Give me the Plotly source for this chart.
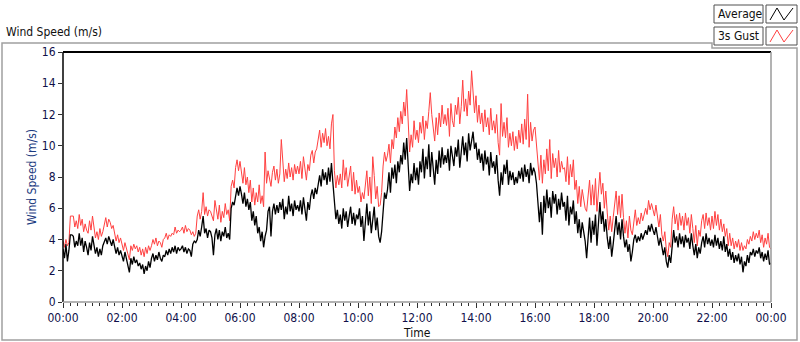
import pandas as pd
import plotly.graph_objects as go

# ---- data (3-minute samples, 00:00 .. 24:00), one row per hour ----
average = [
    3.4, 2.8, 3.7, 2.6, 3.3, 4.3, 4.3, 4.2, 3.5, 3.9, 3.6, 4.4, 3.6, 4.1, 3.2, 3.9, 3.5, 3.0, 3.8, 3.3,
    4.2, 3.6, 3.1, 3.5, 2.9, 3.4, 3.0, 3.6, 3.8, 4.1, 3.7, 4.2, 3.9, 3.6, 4.0, 3.4, 3.1, 3.5, 3.0, 3.3,
    3.0, 2.6, 3.2, 2.7, 2.4, 1.9, 2.8, 2.4, 2.9, 2.5, 2.7, 2.3, 2.5, 2.1, 2.4, 1.8, 2.3, 2.0, 2.6, 2.2,
    2.8, 3.1, 2.6, 3.0, 2.7, 3.2, 2.8, 2.6, 3.0, 2.9, 3.3, 3.0, 3.4, 3.1, 3.5, 3.2, 3.6, 3.1, 3.5, 3.3,
    3.4, 3.6, 3.2, 3.5, 3.1, 3.4, 3.3, 2.9, 3.7, 3.9, 3.8, 4.0, 4.6, 4.2, 4.8, 5.5, 4.4, 4.7, 4.1, 4.6,
    4.5, 4.1, 3.0, 4.3, 4.7, 4.0, 4.6, 3.9, 4.5, 4.2, 4.8, 4.1, 4.4, 4.0, 6.0, 6.4, 6.2, 6.9, 7.3, 6.8,
    7.4, 6.9, 6.3, 7.0, 6.1, 6.6, 5.9, 6.4, 5.2, 5.8, 4.9, 5.5, 4.4, 4.8, 3.9, 4.5, 3.5, 4.2, 4.6, 5.8,
    6.1, 4.2, 5.8, 6.3, 5.6, 6.2, 5.7, 6.4, 5.9, 6.6, 5.3, 6.1, 5.6, 6.8, 5.8, 6.3, 5.5, 6.5, 5.9, 6.2,
    5.8, 6.5, 5.6, 6.7, 6.1, 5.2, 6.4, 5.9, 6.8, 7.2, 6.6, 7.3, 6.9, 7.6, 8.1, 7.4, 8.5, 7.8, 8.3, 7.5,
    8.6, 7.7, 8.9, 7.6, 6.1, 5.3, 5.9, 5.0, 5.6, 4.7, 6.0, 5.2, 5.8, 4.8, 5.5, 6.1, 5.0, 5.7, 4.9, 5.6,
    5.3, 6.0, 4.8, 5.5, 3.9, 5.2, 6.3, 4.9, 5.8, 4.4, 5.5, 6.1, 4.6, 5.4, 4.2, 3.8, 4.5, 5.9, 7.0, 6.6,
    7.2, 8.3, 7.0, 8.6, 7.9, 8.8, 7.6, 9.0, 8.3, 9.4, 8.8, 10.2, 9.1, 10.5, 8.3, 7.1, 8.2, 7.6, 8.9, 7.8,
    8.6, 7.5, 9.0, 8.3, 9.8, 7.9, 9.3, 8.5, 10.1, 8.0, 9.6, 8.4, 7.5, 9.1, 8.2, 9.7, 8.6, 9.9, 8.8, 9.4,
    8.9, 9.8, 8.4, 10.0, 9.2, 8.7, 9.9, 9.3, 10.4, 8.6, 9.6, 10.6, 9.4, 10.2, 9.0, 10.8, 9.7, 10.3, 10.9, 9.8,
    10.2, 9.1, 9.8, 8.9, 9.5, 8.4, 9.7, 8.8, 9.3, 8.1, 9.6, 8.6, 9.0, 8.2, 9.4, 7.8, 6.8, 8.3, 7.5, 8.8,
    8.2, 9.1, 7.5, 8.4, 7.8, 8.3, 7.5, 8.0, 7.6, 8.4, 7.9, 8.6, 7.7, 8.8, 8.0, 8.5, 7.6, 8.9, 8.1, 8.6,
    8.3, 7.6, 6.2, 5.1, 6.4, 4.3, 6.8, 5.7, 7.2, 6.0, 6.7, 5.4, 7.1, 6.3, 6.9, 5.6, 6.6, 5.9, 7.0, 6.1,
    6.4, 5.2, 6.8, 4.9, 6.1, 5.6, 6.5, 5.0, 5.8, 4.4, 5.3, 4.1, 5.1, 4.6, 3.9, 2.8, 4.5, 5.4, 3.8, 5.2,
    4.3, 5.6, 3.6, 5.2, 6.4, 5.0, 5.8, 4.5, 5.3, 4.1, 3.4, 4.2, 2.9, 3.7, 4.6, 5.5, 4.3, 5.1, 4.0, 5.3,
    4.2, 3.5, 4.0, 3.2, 3.7, 2.6, 3.2, 4.0, 4.3, 3.8, 4.2, 3.9, 4.4, 4.0, 4.3, 4.6, 4.3, 4.9, 4.5, 5.0,
    4.6, 4.3, 4.8, 4.0, 3.6, 4.1, 3.4, 3.0, 3.5, 2.6, 2.2, 3.0, 2.5, 3.9, 4.6, 3.8, 4.2, 3.5, 4.4, 3.7,
    4.2, 3.5, 4.3, 3.8, 4.1, 3.4, 4.4, 3.6, 3.0, 3.7, 2.8, 3.5, 3.1, 3.8, 4.2, 3.5, 4.4, 3.7, 4.1, 3.6,
    4.0, 3.5, 4.3, 3.6, 4.1, 3.4, 3.9, 3.3, 4.2, 3.2, 3.7, 2.9, 3.4, 2.7, 3.2, 2.5, 3.0, 2.6, 3.1, 2.4,
    2.9, 1.9, 2.6, 2.3, 3.0, 2.5, 3.2, 3.0, 3.4, 2.9, 3.3, 3.1, 3.5, 2.8, 3.2, 2.6, 3.1, 2.7, 3.3, 2.4,
    2.5,
]
gust = [
    3.9, 3.5, 4.0, 3.6, 3.8, 5.5, 5.5, 5.5, 4.8, 5.2, 4.7, 5.6, 4.9, 5.3, 4.5, 5.0, 4.6, 4.4, 5.2, 4.6,
    5.5, 4.6, 4.1, 4.5, 4.0, 4.7, 4.2, 4.5, 5.0, 5.4, 4.8, 5.3, 5.1, 4.7, 4.9, 4.4, 3.9, 4.3, 3.8, 4.1,
    3.7, 3.3, 3.8, 3.4, 3.1, 2.7, 3.6, 3.3, 3.7, 3.4, 3.6, 3.2, 3.5, 3.0, 3.4, 2.9, 3.5, 3.1, 3.6, 3.3,
    3.6, 4.0, 3.7, 4.1, 3.6, 3.9, 3.8, 3.5, 4.0, 4.1, 4.4, 4.0, 4.3, 4.2, 4.4, 4.3, 4.8, 4.4, 4.6, 4.5,
    4.6, 4.8, 4.4, 4.9, 4.5, 4.7, 4.6, 4.3, 4.5, 4.2, 4.4, 5.5, 5.9, 5.3, 5.8, 7.0, 5.6, 6.1, 5.5, 5.9,
    5.8, 5.5, 5.2, 6.5, 6.0, 5.3, 6.2, 5.1, 5.8, 5.4, 6.3, 5.6, 5.9, 5.2, 7.4, 7.8, 7.3, 8.6, 9.1, 8.4,
    9.0, 8.4, 7.6, 8.6, 7.5, 8.0, 7.0, 7.8, 6.4, 7.3, 6.2, 7.0, 6.4, 7.5, 6.3, 6.8, 6.1, 9.6, 7.6, 8.4,
    7.9, 7.4, 8.3, 8.7, 7.8, 8.5, 7.6, 8.2, 10.4, 8.8, 7.7, 8.5, 7.9, 8.9, 8.0, 8.6, 7.8, 8.8, 8.2, 8.7,
    8.2, 9.0, 7.9, 9.3, 8.6, 7.8, 8.8, 8.4, 9.4, 9.7, 8.9, 9.6, 9.8, 10.3, 11.0, 9.9, 10.8, 10.2, 11.1, 10.0,
    10.6, 9.8, 11.4, 12.0, 8.4, 7.3, 8.1, 7.5, 8.2, 7.3, 9.1, 7.8, 8.6, 7.4, 8.0, 8.7, 7.1, 8.3, 6.9, 7.8,
    7.0, 7.4, 6.4, 7.0, 6.6, 7.5, 8.4, 6.8, 8.0, 6.3, 9.3, 8.1, 6.6, 7.4, 6.1, 6.2, 7.0, 8.7, 9.6, 9.0,
    9.4, 10.1, 8.9, 10.4, 9.8, 11.2, 10.5, 11.8, 10.9, 12.2, 11.4, 12.8, 11.9, 13.6, 11.2, 9.6, 10.7, 9.9, 11.6, 10.4,
    11.0, 10.2, 11.5, 10.8, 11.9, 10.4, 11.6, 11.1, 12.2, 13.4, 12.0, 11.0, 10.3, 11.8, 10.7, 12.1, 11.2, 12.6, 11.4, 12.0,
    11.3, 12.4, 10.6, 12.7, 11.6, 11.2, 12.6, 12.0, 13.1, 11.4, 12.5, 14.2, 12.2, 13.0, 11.9, 13.5, 12.6, 14.8, 13.2, 12.1,
    13.2, 11.5, 12.6, 11.4, 12.1, 10.9, 12.3, 11.2, 11.8, 10.7, 12.4, 11.0, 11.6, 10.8, 12.0, 10.2, 9.4, 12.7, 10.6, 11.5,
    10.5, 11.8, 9.9, 10.8, 10.0, 10.9, 9.7, 10.6, 9.8, 11.0, 10.2, 11.4, 10.1, 11.7, 10.4, 13.3, 9.9, 11.5, 10.3, 11.0,
    11.2, 10.0, 8.6, 7.8, 9.4, 7.6, 9.1, 8.2, 9.8, 8.4, 10.4, 7.9, 9.5, 8.6, 9.2, 8.0, 9.7, 8.3, 9.0, 8.5,
    8.6, 7.7, 9.3, 7.5, 8.8, 8.0, 9.1, 7.2, 7.8, 6.3, 7.4, 6.1, 7.2, 6.6, 6.0, 5.8, 6.9, 7.8, 6.2, 7.5,
    6.2, 7.9, 5.8, 7.4, 8.3, 6.9, 7.6, 6.0, 7.1, 5.7, 4.6, 5.5, 4.5, 5.4, 6.3, 7.1, 5.6, 6.8, 5.4, 6.9,
    5.4, 4.4, 5.2, 4.1, 5.5, 4.6, 4.3, 5.2, 5.9, 4.9, 5.4, 5.0, 5.7, 5.2, 5.6, 6.0, 5.6, 6.5, 5.9, 6.3,
    5.9, 5.5, 6.2, 5.4, 4.8, 5.6, 4.3, 3.9, 4.5, 3.4, 2.9, 3.8, 3.5, 5.3, 6.1, 5.0, 5.6, 4.6, 5.7, 4.9,
    5.5, 4.6, 5.7, 4.9, 5.4, 4.4, 5.6, 4.7, 3.8, 4.9, 3.6, 4.6, 4.2, 5.2, 5.6, 4.7, 5.7, 4.9, 5.4, 4.6,
    5.5, 4.7, 5.8, 4.9, 5.6, 4.6, 5.3, 4.5, 5.0, 4.2, 4.7, 3.6, 4.4, 3.6, 4.1, 3.4, 3.9, 3.5, 4.0, 3.3,
    3.8, 3.3, 3.6, 3.4, 4.0, 3.7, 4.2, 3.9, 4.5, 4.0, 4.4, 4.1, 4.6, 3.8, 4.3, 3.5, 4.1, 3.7, 4.4, 3.5,
    3.4,
]
tick_labels = ["00:00", "02:00", "04:00", "06:00", "08:00", "10:00", "12:00",
               "14:00", "16:00", "18:00", "20:00", "22:00", "00:00"]
y_ticks = [0, 2, 4, 6, 8, 10, 12, 14, 16]

times = pd.date_range("2024-01-01 00:00", periods=len(average), freq="3min")
tick_vals = pd.date_range("2024-01-01 00:00", periods=len(tick_labels), freq="2h")

FONT = "Liberation Sans Narrow, DejaVu Sans Condensed, Arial Narrow, sans-serif"
TXT = "#10104a"

fig = go.Figure()
fig.add_trace(go.Scatter(x=times, y=gust, mode="lines", name="3s Gust",
                         line=dict(color="#ff4040", width=1), showlegend=False))
fig.add_trace(go.Scatter(x=times, y=average, mode="lines", name="Average",
                         line=dict(color="#000000", width=1.3), showlegend=False))

fig.update_layout(
    width=800, height=342,
    margin=dict(l=63, r=29, t=52, b=40),
    paper_bgcolor="white", plot_bgcolor="white",
    font=dict(family=FONT, size=12, color=TXT),
    xaxis=dict(
        range=[tick_vals[0], tick_vals[-1]], automargin=False,
        tickvals=tick_vals, ticktext=tick_labels,
        ticks="outside", ticklen=5, tickcolor="#303030", tickwidth=1,
        showgrid=False, zeroline=False, showline=False,
        minor=dict(dtick=900000, ticks="outside", ticklen=3, tickcolor="#303030", showgrid=False),
        tickfont=dict(size=12, color=TXT),
    ),
    yaxis=dict(
        range=[0, 16], tickvals=y_ticks, automargin=False,
        ticks="outside", ticklen=4, tickcolor="#303030",
        showgrid=False, zeroline=False, showline=False,
        tickfont=dict(size=12, color=TXT),
    ),
)

# pixel -> paper helpers (plot area spans x 63..771, y 52..302)
def px(x):
    return (x - 63) / (771 - 63)
def py(y):
    return (302 - y) / (302 - 52)

# axis titles
fig.add_annotation(xref="paper", yref="paper", x=px(417), y=py(333), text="Time",
                   showarrow=False, xanchor="center", yanchor="middle",
                   font=dict(family=FONT, size=12, color="#101010"))
fig.add_annotation(xref="paper", yref="paper", x=px(32), y=py(177), text="Wind Speed (m/s)",
                   showarrow=False, xanchor="center", yanchor="middle", textangle=-90,
                   font=dict(family=FONT, size=12, color="#1a3a80"))

# plot-area border (sunken look)
fig.add_shape(type="line", xref="paper", yref="paper", x0=0, x1=1, y0=1, y1=1,
              line=dict(color="#000000", width=2))
fig.add_shape(type="line", xref="paper", yref="paper", x0=0, x1=0, y0=0, y1=1,
              line=dict(color="#000000", width=1.5))
fig.add_shape(type="line", xref="paper", yref="paper", x0=1, x1=1, y0=0, y1=1,
              line=dict(color="#9a9a9a", width=1.5))
fig.add_shape(type="line", xref="paper", yref="paper", x0=0, x1=1, y0=0, y1=0,
              line=dict(color="#9a9a9a", width=1.5))

# outer frame
frame = dict(color="#a0a0a0", width=1.5)
fig.add_shape(type="path", xref="paper", yref="paper",
              path=f"M {px(2)},{py(43)} L {px(712)},{py(43)} L {px(712)},{py(48)} L {px(797)},{py(48)} "
                   f"L {px(797)},{py(340)} L {px(2)},{py(340)} Z",
              line=frame)

# chart title
fig.add_annotation(xref="paper", yref="paper", x=px(4), y=py(32), text="Wind Speed (m/s)",
                   showarrow=False, xanchor="left", yanchor="middle",
                   font=dict(family=FONT, size=12, color="#101010"))

# legend boxes
box = dict(color="#505050", width=1)
for (label, color, y0, y1) in [("Average", "#000000", 5, 23), ("3s Gust", "#ff4040", 27, 45)]:
    fig.add_shape(type="rect", xref="paper", yref="paper",
                  x0=px(714), x1=px(763), y0=py(y1), y1=py(y0), line=box, fillcolor="white")
    fig.add_shape(type="rect", xref="paper", yref="paper",
                  x0=px(766), x1=px(797), y0=py(y1), y1=py(y0), line=box, fillcolor="white")
    fig.add_shape(type="path", xref="paper", yref="paper",
                  path=f"M {px(770)},{py(y1-3)} L {px(777)},{py(y0+3)} L {px(784)},{py(y1-3)} L {px(793)},{py(y0+3)}",
                  line=dict(color=color, width=1))
    fig.add_annotation(xref="paper", yref="paper", x=px(716), y=py((y0 + y1) / 2), text=label,
                       showarrow=False, xanchor="left", yanchor="middle",
                       font=dict(family=FONT, size=12, color="#101010"))

fig.write_html("out.html", config={"displayModeBar": False},
               post_script="document.body.style.margin='0px';document.body.style.padding='0px';")
